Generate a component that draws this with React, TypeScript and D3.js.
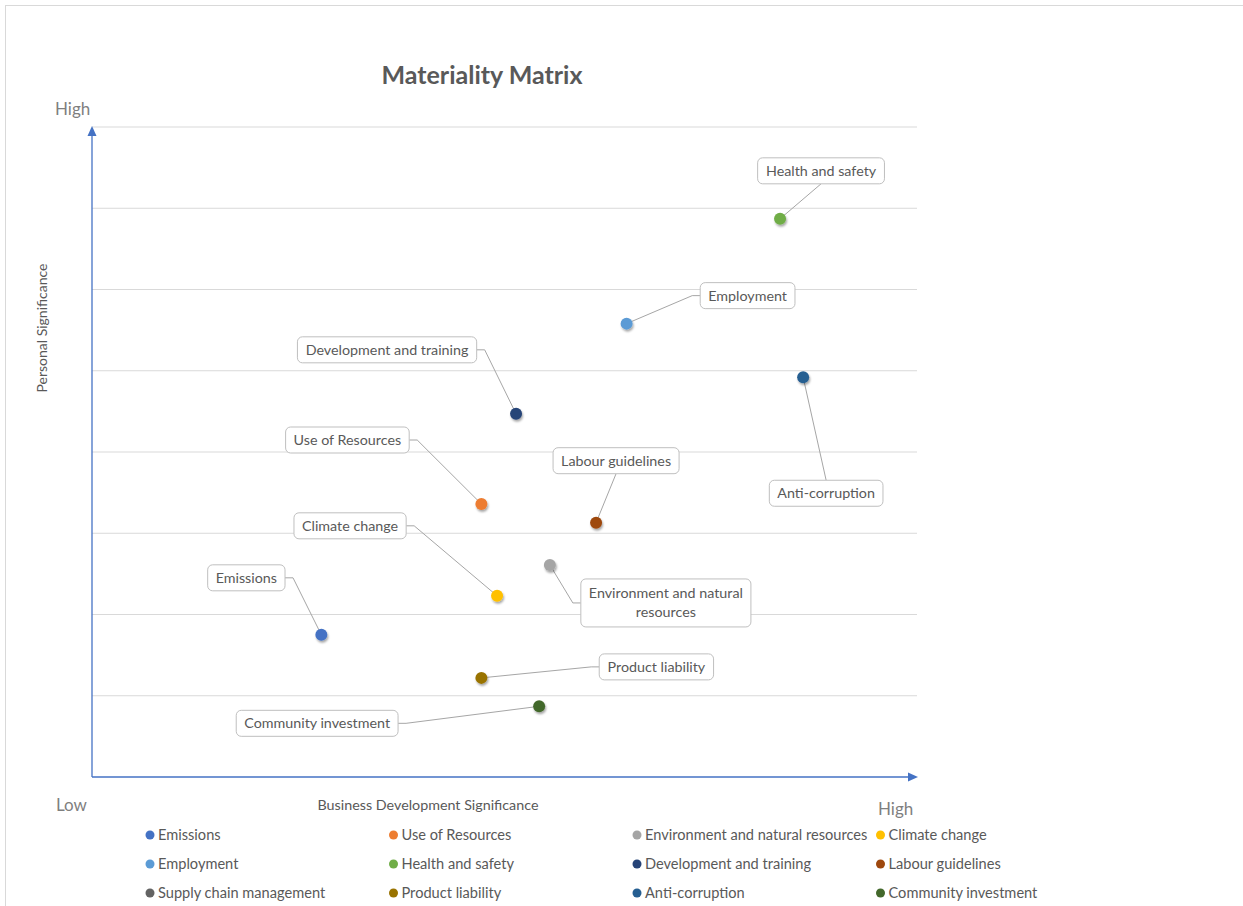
import React, { useEffect, useRef } from 'react';
import * as d3 from 'd3';

// topics of the matrix, in legend order
const topics = [
  'Emissions',
  'Use of Resources',
  'Environment and natural resources',
  'Climate change',
  'Employment',
  'Health and safety',
  'Development and training',
  'Labour guidelines',
  'Supply chain management',
  'Product liability',
  'Anti-corruption',
  'Community investment',
];

// business development significance (x) and personal significance (y)
const businessValues: (number | null)[] = [2.78, 4.72, 5.55, 4.91, 6.48, 8.34, 5.14, 6.11, null, 4.72, 8.62, 5.42];
const personalValues: (number | null)[] = [1.75, 3.36, 2.61, 2.23, 5.58, 6.87, 4.47, 3.13, null, 1.22, 4.92, 0.87];

const topicColors = [
  '#4472C4', '#ED7D31', '#A5A5A5', '#FFC000',
  '#5B9BD5', '#70AD47', '#264478', '#9E480E',
  '#636363', '#997300', '#255E91', '#43682B',
];

const gridTicks = [1, 2, 3, 4, 5, 6, 7, 8];

// where each data label box sits relative to its point, and which side the leader leaves from
const labelPlacement: { dx: number; dy: number; side: string }[] = [
  { dx: -75, dy: -57, side: 'right' },
  { dx: -134, dy: -64, side: 'right' },
  { dx: 116, dy: 38, side: 'left' },
  { dx: -147, dy: -70, side: 'right' },
  { dx: 121, dy: -28, side: 'left' },
  { dx: 41, dy: -48, side: 'bottom' },
  { dx: -129, dy: -64, side: 'right' },
  { dx: 20, dy: -62, side: 'bottom' },
  { dx: 0, dy: 0, side: 'none' },
  { dx: 175, dy: -11, side: 'left' },
  { dx: 23, dy: 116, side: 'top' },
  { dx: -222, dy: 17, side: 'right' },
];

const FONT = 'Lato, "Open Sans", sans-serif';

const MaterialityMatrix: React.FC = () => {
  const svgRef = useRef<SVGSVGElement>(null);
  const width = 1243;
  const height = 906;

  useEffect(() => {
    if (!svgRef.current) return;
    const svg = d3.select(svgRef.current);
    svg.selectAll('*').remove();

    const plot = { left: 92, right: 917, top: 127, bottom: 777 };

    const x = d3.scaleLinear().domain([0, 10]).range([plot.left, plot.right]);
    const y = d3.scaleLinear().domain([0, 8]).range([plot.bottom, plot.top]);

    const defs = svg.append('defs');
    defs.append('filter')
      .attr('id', 'shadow')
      .attr('x', '-50%').attr('y', '-50%').attr('width', '200%').attr('height', '200%')
      .append('feDropShadow')
      .attr('dx', 1).attr('dy', 2).attr('stdDeviation', 1.3)
      .attr('flood-color', '#000').attr('flood-opacity', 0.35);

    // chart border
    svg.append('rect')
      .attr('x', 5.5).attr('y', 5.5)
      .attr('width', width + 20).attr('height', height + 20)
      .attr('fill', 'white')
      .attr('stroke', '#d9d9d9');

    // title
    svg.append('text')
      .attr('x', 482).attr('y', 84)
      .attr('text-anchor', 'middle')
      .attr('font-family', FONT)
      .attr('font-weight', 'bold')
      .attr('font-size', 25)
      .attr('fill', '#595959')
      .text('Materiality Matrix');

    // horizontal gridlines
    svg.append('g')
      .selectAll('line')
      .data(gridTicks)
      .join('line')
      .attr('x1', plot.left).attr('x2', plot.right)
      .attr('y1', d => y(d)).attr('y2', d => y(d))
      .attr('stroke', '#d9d9d9')
      .attr('stroke-width', 1);

    // axes with arrows
    const axisColor = '#4472C4';
    svg.append('line')
      .attr('x1', plot.left).attr('x2', plot.left)
      .attr('y1', plot.bottom).attr('y2', plot.top + 6)
      .attr('stroke', axisColor).attr('stroke-width', 1.3);
    svg.append('path')
      .attr('d', `M${plot.left},${plot.top - 1} L${plot.left - 4.5},${plot.top + 9} L${plot.left + 4.5},${plot.top + 9} Z`)
      .attr('fill', axisColor);
    svg.append('line')
      .attr('x1', plot.left).attr('x2', plot.right - 6)
      .attr('y1', plot.bottom).attr('y2', plot.bottom)
      .attr('stroke', axisColor).attr('stroke-width', 1.3);
    svg.append('path')
      .attr('d', `M${plot.right + 1},${plot.bottom} L${plot.right - 9},${plot.bottom - 4.5} L${plot.right - 9},${plot.bottom + 4.5} Z`)
      .attr('fill', axisColor);

    // High / Low captions
    const caption = (tx: number, ty: number, t: string) =>
      svg.append('text')
        .attr('x', tx).attr('y', ty)
        .attr('font-family', FONT)
        .attr('font-size', 17)
        .attr('fill', '#7f7f7f')
        .text(t);
    caption(55, 115, 'High');
    caption(56, 811, 'Low');
    caption(878, 815, 'High');

    // axis titles
    svg.append('text')
      .attr('x', 428).attr('y', 810)
      .attr('text-anchor', 'middle')
      .attr('font-family', FONT)
      .attr('font-size', 14.3)
      .attr('fill', '#595959')
      .text('Business Development Significance');

    svg.append('text')
      .attr('transform', 'translate(47,328) rotate(-90)')
      .attr('text-anchor', 'middle')
      .attr('font-family', FONT)
      .attr('font-size', 14)
      .attr('fill', '#595959')
      .text('Personal Significance');

    const points = topics.map((name, i) => ({
      name,
      i,
      bx: businessValues[i],
      py: personalValues[i],
      color: topicColors[i],
      place: labelPlacement[i],
    })).filter(d => d.bx !== null && d.py !== null);

    const leaderLayer = svg.append('g');
    const labelLayer = svg.append('g');
    const pointLayer = svg.append('g');

    // data labels: rounded boxes with leader lines
    points.forEach(d => {
      const px = x(d.bx as number);
      const py = y(d.py as number);
      const cx = px + d.place.dx;
      const cy = py + d.place.dy;

      const g = labelLayer.append('g');
      const rect = g.append('rect');
      const txt = g.append('text')
        .attr('text-anchor', 'middle')
        .attr('font-family', FONT)
        .attr('font-size', 14.3)
        .attr('fill', '#595959');

      // simple word wrap
      const words = d.name.split(' ');
      const lines: string[] = [];
      let current = '';
      const probe = g.append('text').attr('font-family', FONT).attr('font-size', 14.3);
      words.forEach(w => {
        const trial = current ? current + ' ' + w : w;
        probe.text(trial);
        const len = (probe.node() as SVGTextElement).getComputedTextLength();
        if (len > 165 && current) {
          lines.push(current);
          current = w;
        } else {
          current = trial;
        }
      });
      lines.push(current);
      probe.remove();

      const lineH = 19;
      lines.forEach((l, k) => {
        txt.append('tspan')
          .attr('x', cx)
          .attr('y', cy + 5 + (k - (lines.length - 1) / 2) * lineH)
          .text(l);
      });
      const bb = (txt.node() as SVGTextElement).getBBox();
      const w = bb.width + 16;
      const h = lines.length === 1 ? 26 : 26 + (lines.length - 1) * lineH + 3;

      rect
        .attr('x', cx - w / 2).attr('y', cy - h / 2)
        .attr('width', w).attr('height', h)
        .attr('rx', 5)
        .attr('fill', 'white')
        .attr('stroke', '#bfbfbf')
        .attr('stroke-width', 1);

      let pts: [number, number][] = [];
      if (d.place.side === 'right') {
        pts = [[cx + w / 2, cy], [cx + w / 2 + 8, cy], [px, py]];
      } else if (d.place.side === 'left') {
        pts = [[cx - w / 2, cy], [cx - w / 2 - 8, cy], [px, py]];
      } else if (d.place.side === 'bottom') {
        pts = [[cx, cy + h / 2], [px, py]];
      } else if (d.place.side === 'top') {
        pts = [[cx, cy - h / 2], [px, py]];
      }
      leaderLayer.append('path')
        .attr('d', d3.line()(pts))
        .attr('fill', 'none')
        .attr('stroke', '#a6a6a6')
        .attr('stroke-width', 1);
    });

    // markers
    pointLayer.selectAll('circle')
      .data(points)
      .join('circle')
      .attr('cx', d => x(d.bx as number))
      .attr('cy', d => y(d.py as number))
      .attr('r', 6)
      .attr('fill', d => d.color)
      .attr('filter', 'url(#shadow)');

    // legend
    const legend = svg.append('g');
    const colX = d3.scaleLinear().domain([0, 1]).range([150, 393.5]);
    const rowY = d3.scaleLinear().domain([0, 1]).range([835, 864]);
    topics.forEach((name, i) => {
      const col = i % 4;
      const row = Math.floor(i / 4);
      const lx = colX(col);
      const ly = rowY(row);
      legend.append('circle')
        .attr('cx', lx).attr('cy', ly)
        .attr('r', 4.5)
        .attr('fill', topicColors[i]);
      legend.append('text')
        .attr('x', lx + 8).attr('y', ly + 5)
        .attr('font-family', FONT)
        .attr('font-size', 14.6)
        .attr('fill', '#595959')
        .text(name);
    });
  }, []);

  return (
    <svg
      ref={svgRef}
      width={width}
      height={height}
      style={{ position: 'absolute', left: 0, top: 0, background: 'white' }}
    />
  );
};

export default function App() {
  return <MaterialityMatrix />;
}
